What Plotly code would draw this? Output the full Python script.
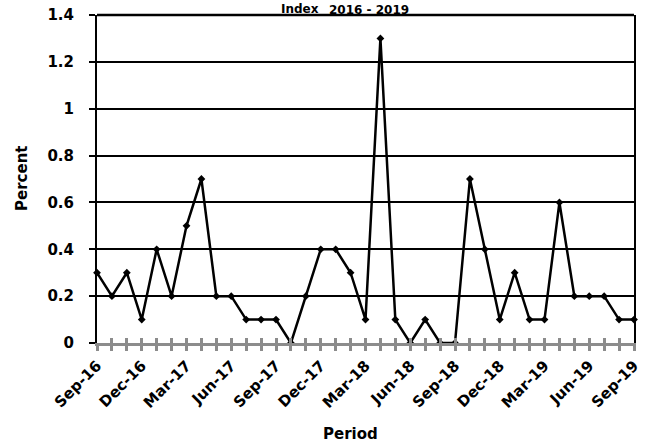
import plotly.graph_objects as go

periods = ["Sep-16","Oct-16","Nov-16","Dec-16","Jan-17","Feb-17","Mar-17","Apr-17","May-17",
           "Jun-17","Jul-17","Aug-17","Sep-17","Oct-17","Nov-17","Dec-17","Jan-18","Feb-18",
           "Mar-18","Apr-18","May-18","Jun-18","Jul-18","Aug-18","Sep-18","Oct-18","Nov-18",
           "Dec-18","Jan-19","Feb-19","Mar-19","Apr-19","May-19","Jun-19","Jul-19","Aug-19","Sep-19"]
percent = [0.3,0.2,0.3,0.1,0.4,0.2,0.5,0.7,0.2,
           0.2,0.1,0.1,0.1,0.0,0.2,0.4,0.4,0.3,
           0.1,1.3,0.1,0.0,0.1,0.0,0.0,0.7,0.4,
           0.1,0.3,0.1,0.1,0.6,0.2,0.2,0.2,0.1,0.1]
y_ticks = [0, 0.2, 0.4, 0.6, 0.8, 1.0, 1.2, 1.4]
y_tick_text = ["0", "0.2", "0.4", "0.6", "0.8", "1", "1.2", "1.4"]

idx = list(range(len(periods)))
tick_text = [p if i % 3 == 0 else "" for i, p in enumerate(periods)]

FONT = "DejaVu Sans"
W, H = 645, 446
L, R, T, B = 97, 11, 15, 103
pw, ph = W - L - R, H - T - B

def px_x(x):
    return (x - L) / pw

def px_y(y):
    return (H - B - y) / ph

fig = go.Figure()
fig.add_trace(go.Scatter(
    x=idx, y=percent, mode="lines+markers",
    line=dict(color="black", width=2.5),
    marker=dict(color="black", size=6, symbol="diamond"),
    showlegend=False, cliponaxis=False,
))
fig.add_trace(go.Scatter(x=idx, y=percent, xaxis="x2", mode="none",
                         showlegend=False, hoverinfo="skip"))

fig.update_layout(
    width=W, height=H,
    margin=dict(l=L, r=R, t=T, b=B, autoexpand=False),
    paper_bgcolor="white", plot_bgcolor="white",
    font=dict(family=FONT, color="black", size=14),
    xaxis=dict(
        range=[0, 36], tickmode="array", tickvals=idx, ticktext=tick_text,
        tickangle=-45, ticks="outside", ticklen=5, tickwidth=2.5, tickcolor="#8c8c8c",
        showline=True, linecolor="#8c8c8c", linewidth=3, showgrid=False, zeroline=False,
        tickfont=dict(family=FONT, size=15, color="black", weight="bold"),
        automargin=False,
    ),
    xaxis2=dict(
        overlaying="x", matches="x", range=[0, 36], tickmode="array", tickvals=idx,
        ticks="inside", ticklen=5, tickwidth=2.5, tickcolor="#8c8c8c",
        showticklabels=False, showline=False, showgrid=False, zeroline=False, side="bottom",
        automargin=False,
    ),
    yaxis=dict(
        range=[0, 1.4], tickmode="array", tickvals=y_ticks, ticktext=y_tick_text,
        ticks="outside", ticklen=6, tickwidth=2, tickcolor="black",
        showline=True, linecolor="black", linewidth=2, mirror=True,
        showgrid=True, gridcolor="black", gridwidth=2, zeroline=False,
        tickfont=dict(family=FONT, size=15, color="black", weight="bold"),
        ticklabelstandoff=12, automargin=False,
    ),
    shapes=[dict(type="line", xref="paper", yref="paper", x0=0, x1=1, y0=1, y1=1,
                 line=dict(color="black", width=2.5))],
    annotations=[
        dict(text="<b>Percent</b>", xref="paper", yref="paper", x=px_x(22), y=0.5,
             textangle=-90, showarrow=False, xanchor="center", yanchor="middle",
             font=dict(size=15, family=FONT)),
        dict(text="<b>Period</b>", xref="paper", yref="paper", x=px_x(350), y=px_y(445),
             showarrow=False, xanchor="center", yanchor="bottom",
             font=dict(size=15, family=FONT)),
        dict(text="<b>Index</b>", xref="paper", yref="paper", x=px_x(320), y=px_y(17),
             showarrow=False, xanchor="right", yanchor="bottom", borderpad=0,
             font=dict(size=12, family=FONT)),
        dict(text="<b>2016 - 2019</b>", xref="paper", yref="paper", x=px_x(328), y=px_y(18),
             showarrow=False, xanchor="left", yanchor="bottom", borderpad=0,
             font=dict(size=12, family=FONT)),
    ],
)

fig.write_html("out.html", config={"displayModeBar": False},
               post_script="document.body.style.margin='0';")
